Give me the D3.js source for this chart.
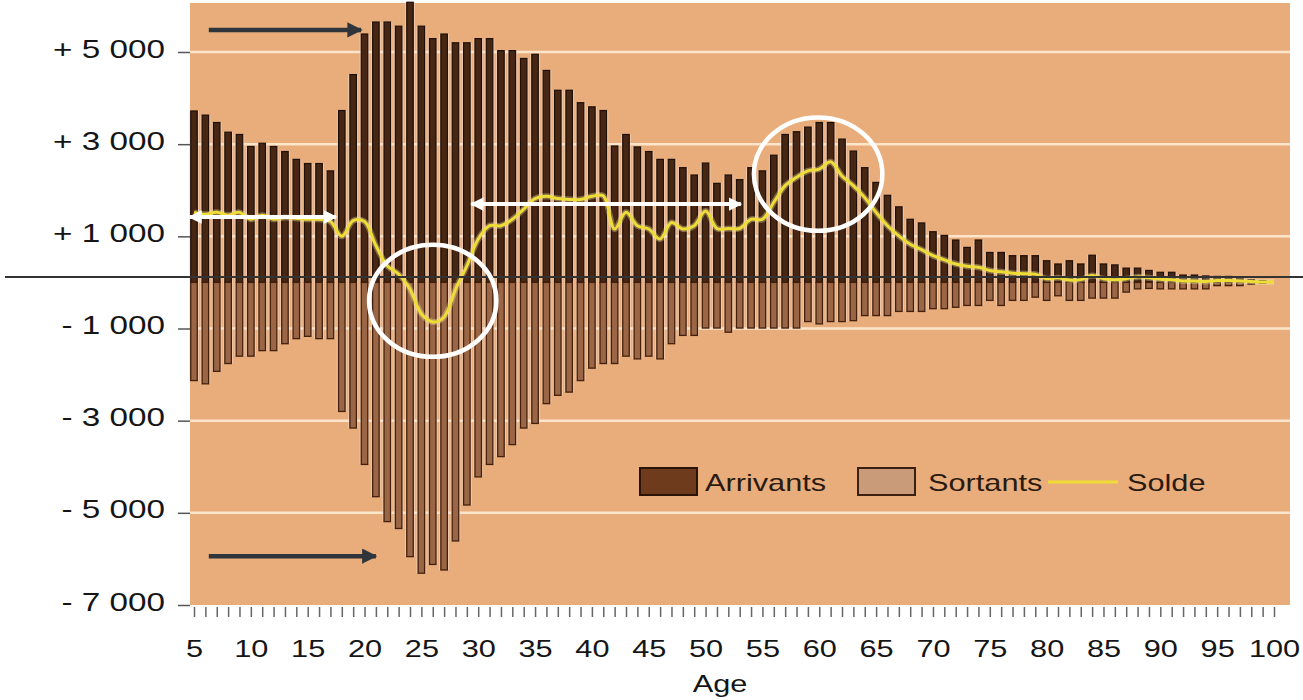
<!DOCTYPE html>
<html>
<head>
<meta charset="utf-8">
<script src="https://cdn.jsdelivr.net/npm/d3@7"></script>
<style>
  html, body { margin: 0; padding: 0; background: #ffffff; }
  svg { display: block; }
  text { font-family: "Liberation Sans", Arial, sans-serif; fill: #151515; }
</style>
</head>
<body>
<svg id="chart" width="1303" height="700"></svg>
<script>
// ---------------- DATA ----------------
const ages = d3.range(5, 100);            // bar ages 5..99
const arrivants = [
  3720, 3630, 3470, 3260, 3210, 2950, 3020, 2950, 2840, 2670,   // 5-14
  2580, 2580, 2420, 3730, 4510, 5390, 5650, 5650, 5560, 6080,   // 15-24
  5560, 5290, 5390, 5200, 5200, 5290, 5290, 5030, 5030, 4860,   // 25-34
  4950, 4600, 4170, 4170, 3900, 3810, 3730, 2960, 3210, 2940,   // 35-44
  2840, 2670, 2670, 2490, 2330, 2590, 2150, 2330, 2230, 2490,   // 45-54
  2420, 2760, 3210, 3270, 3370, 3470, 3470, 3110, 2850, 2490,   // 55-64
  2170, 1890, 1640, 1370, 1290, 1100, 1020, 920, 760, 920,      // 65-74
  650, 650, 580, 580, 580, 470, 400, 470, 400, 590,             // 75-84
  400, 380, 310, 310, 260, 220, 220, 160, 160, 140,             // 85-94
  130, 130, 100, 60, 40                                         // 95-99
];
const sortants = [
  -2130, -2200, -1930, -1760, -1600, -1600, -1480, -1480, -1330, -1220, // 5-14
  -1170, -1220, -1220, -2800, -3160, -3950, -4650, -5190, -5340, -5950, // 15-24
  -6310, -6120, -6240, -5610, -4830, -4220, -3950, -3780, -3520, -3160, // 25-34
  -3060, -2630, -2450, -2380, -2130, -1860, -1760, -1760, -1600, -1660, // 35-44
  -1600, -1660, -1330, -1150, -1150, -990, -990, -1080, -990, -990,     // 45-54
  -990, -990, -990, -990, -850, -900, -850, -850, -830, -720,           // 55-64
  -720, -720, -630, -630, -630, -570, -570, -540, -500, -500,           // 65-74
  -390, -500, -390, -390, -320, -390, -290, -390, -390, -340,           // 75-84
  -340, -340, -210, -140, -130, -140, -140, -140, -140, -140,           // 85-94
  -70, -70, -70, -40, -20                                               // 95-99
];
const soldeAges = d3.range(5, 101);       // line ages 5..100
const solde = [
  1520, 1480, 1520, 1460, 1520, 1370, 1460, 1370, 1410, 1390,   // 5-14
  1370, 1370, 1320, 1000, 1340, 1320, 800, 360, 180, -150,      // 15-24
  -680, -860, -750, -150, 360, 940, 1230, 1230, 1370, 1590,     // 25-34
  1820, 1870, 1820, 1800, 1800, 1870, 1880, 1160, 1520, 1230,   // 35-44
  1160, 940, 1300, 1160, 1230, 1550, 1170, 1170, 1170, 1370,    // 45-54
  1370, 1740, 2100, 2280, 2420, 2460, 2620, 2310, 2100, 1840,   // 55-64
  1520, 1230, 1010, 830, 710, 580, 490, 400, 350, 330,          // 65-74
  260, 230, 200, 190, 180, 80, 100, 50, 60, 150,                // 75-84
  80, 60, 80, 120, 100, 70, 60, 30, 30, 20,                     // 85-94
  40, 40, 30, 20, 10, 10                                        // 95-100
];
const yTicks = [5000, 3000, 1000, -1000, -3000, -5000, -7000];
const xTicks = d3.range(5, 101);
const xLabels = d3.range(5, 101, 5);
const legendItems = ["Arrivants", "Sortants", "Solde"];
const axisTitle = "Age";

// annotations (in data units: age, value)
const darkArrows = [
  { from: 6.3, to: 19.7, value: 5480 },
  { from: 6.3, to: 21.0, value: -5940 }
];
const whiteArrows = [
  { from: 4.6, to: 17.5, value: 1420 },
  { from: 29.4, to: 53.1, value: 1700 }
];
const ellipses = [
  { age: 26.0, value: -400, rAge: 5.6, rVal: 1215 },
  { age: 59.9, value: 2350, rAge: 5.65, rVal: 1230 }
];

// ---------------- LAYOUT ----------------
const svg = d3.select("#chart");
const plotLeft = 190, plotRight = 1290, plotTop = 3, plotBottom = 605;
const x = d3.scaleLinear().domain([5, 100]).range([194, 1274]);
const y = d3.scaleLinear().domain([-7000, 5000]).range([605, 52]);
const STRETCH = 1.28;

// background
svg.append("rect")
  .attr("x", plotLeft).attr("y", plotTop)
  .attr("width", plotRight - plotLeft).attr("height", plotBottom - plotTop)
  .attr("fill", "#e8ad7b");

// gridlines
svg.append("g").selectAll("line")
  .data(yTicks.filter(v => v > -7000))
  .join("line")
  .attr("x1", plotLeft).attr("x2", plotRight)
  .attr("y1", d => y(d)).attr("y2", d => y(d))
  .attr("stroke", "#fbe6cc").attr("stroke-width", 2.5);

// bar halos (pale gaps seen between bars)
const barW = 6.5, haloW = 10;
const haloG = svg.append("g").attr("opacity", 0.55);
haloG.selectAll("rect.ha")
  .data(ages).join("rect")
  .attr("x", (d) => x(d) - haloW / 2)
  .attr("width", haloW)
  .attr("y", (d, i) => y(arrivants[i]))
  .attr("height", (d, i) => y(sortants[i]) - y(arrivants[i]))
  .attr("fill", "#f6dccb");

// arrivants bars
svg.append("g").selectAll("rect")
  .data(ages).join("rect")
  .attr("x", d => x(d) - barW / 2)
  .attr("width", barW)
  .attr("y", (d, i) => y(arrivants[i]))
  .attr("height", (d, i) => y(0) - y(arrivants[i]))
  .attr("fill", "#472714")
  .attr("stroke", "#1e0e06").attr("stroke-width", 1.2);

// sortants bars
svg.append("g").selectAll("rect")
  .data(ages).join("rect")
  .attr("x", d => x(d) - barW / 2)
  .attr("width", barW)
  .attr("y", y(0))
  .attr("height", (d, i) => y(sortants[i]) - y(0))
  .attr("fill", "#9a6646")
  .attr("stroke", "#44200c").attr("stroke-width", 1.3);

// solde line
const line = d3.line()
  .x((d) => x(d))
  .y((d, i) => y(solde[i]))
  .curve(d3.curveCatmullRom.alpha(0.5));
svg.append("path").datum(soldeAges)
  .attr("d", line).attr("fill", "none")
  .attr("stroke", "#f8f0a8").attr("stroke-width", 6).attr("opacity", 0.35);
svg.append("path").datum(soldeAges)
  .attr("d", line).attr("fill", "none")
  .attr("stroke", "#efdc36").attr("stroke-width", 3);

// black horizontal reference line
svg.append("line")
  .attr("x1", 5).attr("x2", 1303)
  .attr("y1", y(120)).attr("y2", y(120))
  .attr("stroke", "#333333").attr("stroke-width", 2);

// ellipses
svg.append("g").selectAll("ellipse")
  .data(ellipses).join("ellipse")
  .attr("cx", d => x(d.age)).attr("cy", d => y(d.value))
  .attr("rx", d => x(d.age + d.rAge) - x(d.age))
  .attr("ry", d => y(d.value - d.rVal) - y(d.value))
  .attr("fill", "none").attr("stroke", "#ffffff").attr("stroke-width", 4.5);

// arrow markers
const defs = svg.append("defs");
defs.append("marker").attr("id", "darkHead")
  .attr("viewBox", "0 0 10 10").attr("refX", 9).attr("refY", 5)
  .attr("markerWidth", 3.4).attr("markerHeight", 3.4).attr("orient", "auto")
  .append("path").attr("d", "M0,0 L10,5 L0,10 z").attr("fill", "#2f353a");
defs.append("marker").attr("id", "whiteHead")
  .attr("viewBox", "0 0 10 10").attr("refX", 9).attr("refY", 5)
  .attr("markerWidth", 3.4).attr("markerHeight", 3.4).attr("orient", "auto-start-reverse")
  .append("path").attr("d", "M0,0 L10,5 L0,10 z").attr("fill", "#ffffff");

svg.append("g").selectAll("line")
  .data(darkArrows).join("line")
  .attr("x1", d => x(d.from)).attr("x2", d => x(d.to))
  .attr("y1", d => y(d.value)).attr("y2", d => y(d.value))
  .attr("stroke", "#2f353a").attr("stroke-width", 4.5)
  .attr("marker-end", "url(#darkHead)");

svg.append("g").selectAll("line")
  .data(whiteArrows).join("line")
  .attr("x1", d => x(d.from)).attr("x2", d => x(d.to))
  .attr("y1", d => y(d.value)).attr("y2", d => y(d.value))
  .attr("stroke", "#ffffff").attr("stroke-width", 4)
  .attr("marker-start", "url(#whiteHead)")
  .attr("marker-end", "url(#whiteHead)");

// legend
const lg = svg.append("g");
lg.append("rect").attr("x", 640).attr("y", 468).attr("width", 57).attr("height", 27)
  .attr("fill", "#6e3b1d").attr("stroke", "#2a1408").attr("stroke-width", 2);
lg.append("rect").attr("x", 858).attr("y", 468).attr("width", 57).attr("height", 27)
  .attr("fill", "#c99b79").attr("stroke", "#3a2010").attr("stroke-width", 2);
lg.append("line").attr("x1", 1048).attr("x2", 1118).attr("y1", 482).attr("y2", 482)
  .attr("stroke", "#efdc36").attr("stroke-width", 3);
const legendX = [705, 928, 1127];
legendItems.forEach((t, i) => {
  lg.append("text")
    .attr("transform", `translate(${legendX[i]},491) scale(${STRETCH},1)`)
    .attr("font-size", 24).style("fill", "#2a1a10")
    .text(t);
});

// y axis
const fmt = v => (v > 0 ? "+ " : "- ") + d3.format(",")(Math.abs(v)).replace(/,/g, " ");
const yAxis = svg.append("g").attr("transform", `translate(${plotLeft},0)`)
  .call(d3.axisLeft(y).tickValues(yTicks).tickSize(12).tickFormat(fmt));
yAxis.select(".domain").remove();
yAxis.selectAll(".tick line").attr("stroke", "#555").attr("stroke-width", 1.5);
yAxis.selectAll(".tick text")
  .attr("x", 0).attr("dy", "0.35em")
  .attr("transform", `translate(-25,-4) scale(${STRETCH},1)`)
  .attr("font-size", 26).attr("font-family", "Liberation Sans, Arial, sans-serif")
  .style("fill", "#151515");

// x axis
const xAxis = svg.append("g").attr("transform", `translate(0,${plotBottom + 2})`)
  .call(d3.axisBottom(x).tickValues(xTicks).tickSize(10)
    .tickFormat(d => (xLabels.includes(d) ? String(d) : "")));
xAxis.select(".domain").remove();
xAxis.selectAll(".tick line").attr("stroke", "#666").attr("stroke-width", 1.5);
xAxis.selectAll(".tick text")
  .attr("y", 0).attr("dy", null)
  .attr("transform", `translate(0,${657 - plotBottom - 2}) scale(${STRETCH},1)`)
  .attr("font-size", 24).attr("font-family", "Liberation Sans, Arial, sans-serif")
  .style("fill", "#151515");

svg.append("text")
  .attr("text-anchor", "middle")
  .attr("transform", `translate(720,692) scale(${STRETCH},1)`)
  .attr("font-size", 24)
  .text(axisTitle);
</script>
</body>
</html>
